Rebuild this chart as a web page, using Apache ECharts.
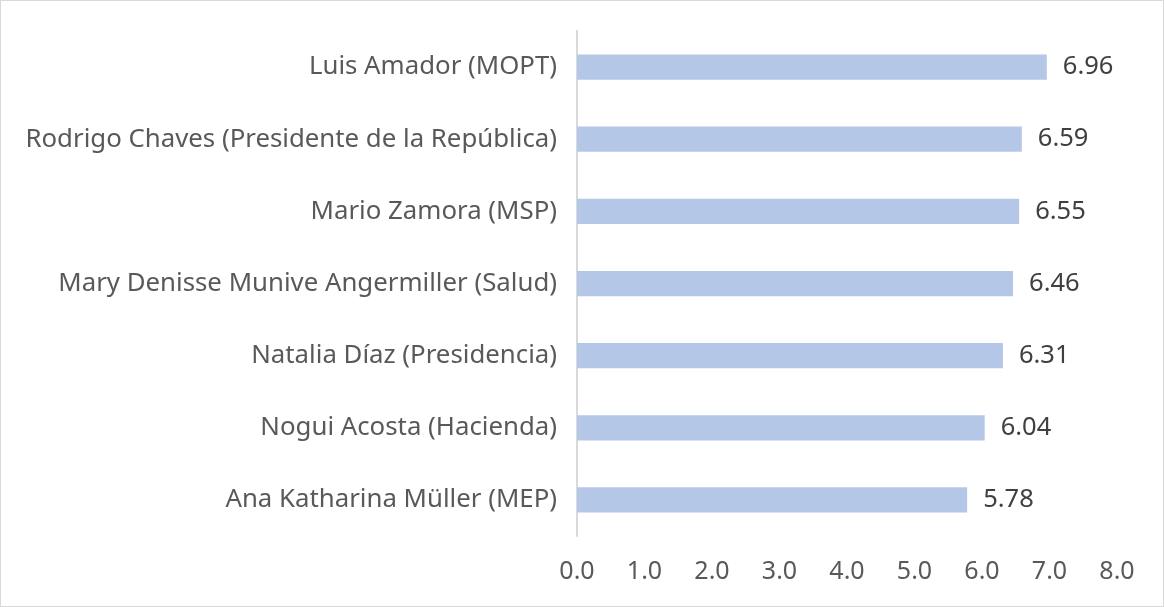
<!DOCTYPE html>
<html>
<head>
<meta charset="utf-8">
<script src="https://cdn.jsdelivr.net/npm/echarts@6/dist/echarts.min.js"></script>
<style>
  html, body { margin: 0; padding: 0; background: #fff; }
  #chart { width: 1162px; height: 605px; border: 1px solid #D9D9D9; }
</style>
</head>
<body>
<div id="chart"></div>
<script>
// top to bottom, as in the picture
const names = [
    'Luis Amador (MOPT)',
    'Rodrigo Chaves (Presidente de la República)',
    'Mario Zamora (MSP)',
    'Mary Denisse Munive Angermiller (Salud)',
    'Natalia Díaz (Presidencia)',
    'Nogui Acosta (Hacienda)',
    'Ana Katharina Müller (MEP)'
];
const scores = [6.96, 6.59, 6.55, 6.46, 6.31, 6.04, 5.78];
const xTicks = [0, 1, 2, 3, 4, 5, 6, 7, 8];

const font = '"Noto Sans", sans-serif';
const option = {
    animation: false,
    grid: { left: 576, right: 46, top: 30, bottom: 70 },
    xAxis: {
        type: 'value',
        min: xTicks[0],
        max: xTicks[xTicks.length - 1],
        interval: 1,
        axisLine: { show: false },
        axisTick: { show: false },
        splitLine: { show: false },
        axisLabel: {
            margin: 23,
            color: '#595959',
            fontSize: 25,
            fontFamily: font,
            formatter: v => v.toFixed(1)
        }
    },
    yAxis: {
        type: 'category',
        inverse: true,
        data: names,
        axisLine: { show: true, lineStyle: { color: '#D9D9D9', width: 2 } },
        axisTick: { show: false },
        axisLabel: {
            margin: 20,
            color: '#595959',
            fontSize: 25.8,
            fontFamily: font
        }
    },
    series: [{
        type: 'bar',
        data: scores,
        barWidth: '35%',
        itemStyle: { color: '#B4C7E7' },
        label: {
            show: true,
            position: 'right',
            distance: 16,
            color: '#404040',
            fontSize: 25.5,
            fontFamily: font,
            formatter: p => p.value.toFixed(2)
        }
    }]
};
echarts.init(document.getElementById('chart')).setOption(option);
</script>
</body>
</html>
